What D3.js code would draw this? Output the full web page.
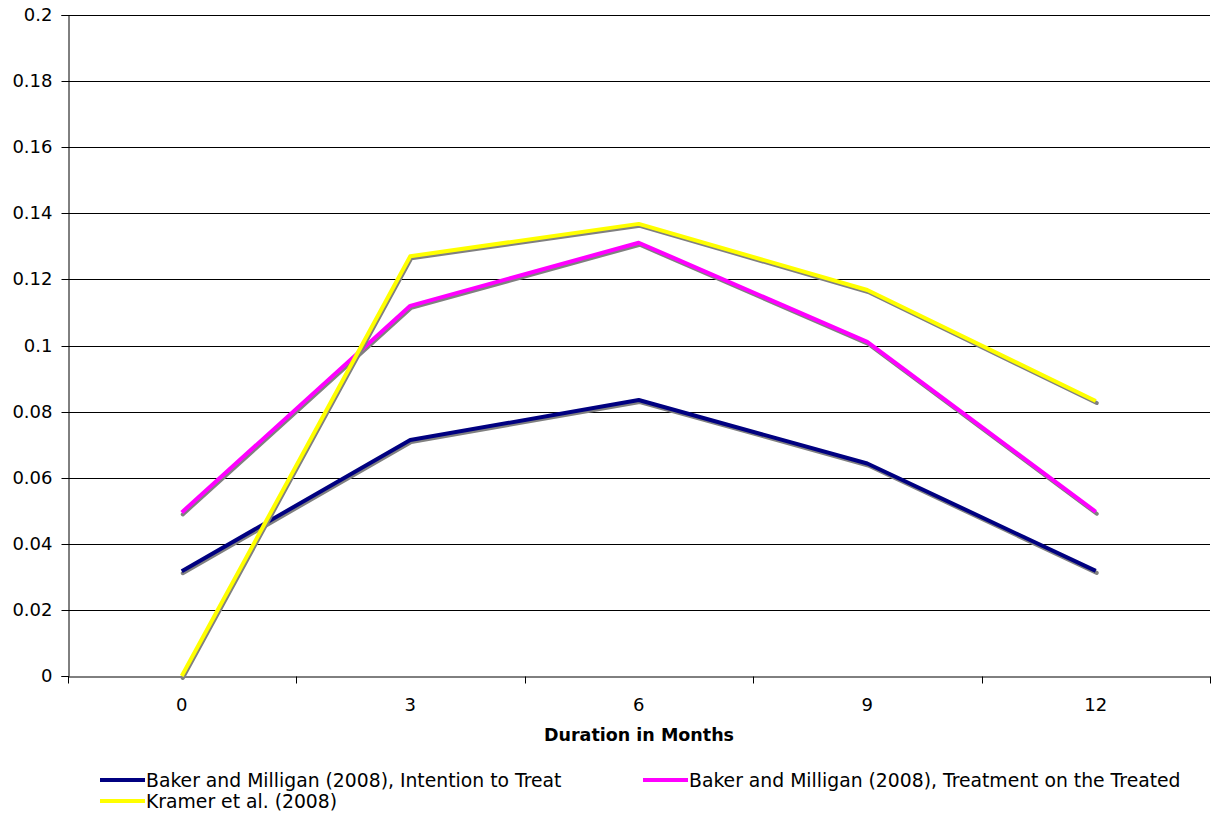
<!DOCTYPE html>
<html>
<head>
<meta charset="utf-8">
<script src="https://cdn.jsdelivr.net/npm/d3@7"></script>
<style>
  html, body { margin: 0; padding: 0; background: #fff; }
  svg { display: block; }
  text { font-family: "DejaVu Sans", Verdana, sans-serif; fill: #000; }
</style>
</head>
<body>
<svg id="chart" width="1211" height="821"></svg>
<script>
const categories = ["0", "3", "6", "9", "12"];
const seriesNames = [
  "Baker and Milligan (2008), Intention to Treat",
  "Baker and Milligan (2008), Treatment on the Treated",
  "Kramer et al. (2008)"
];
const intentionToTreat = [0.0317, 0.0714, 0.0835, 0.0643, 0.0318];
const treatmentOnTreated = [0.0495, 0.112, 0.1311, 0.1011, 0.0497];
const kramer = [0, 0.127, 0.1368, 0.1168, 0.0832];
const yTicks = [0, 0.02, 0.04, 0.06, 0.08, 0.1, 0.12, 0.14, 0.16, 0.18, 0.2];
const colors = ["#000080", "#FF00FF", "#FFFF00"];
const xTitle = "Duration in Months";

const series = [intentionToTreat, treatmentOnTreated, kramer];

const svg = d3.select("#chart");
const plot = { left: 67.5, right: 1210, top: 15, bottom: 676 };
const tickFont = "18px";
const legendFont = "18.8px";

const x = d3.scaleBand().domain(categories).range([plot.left, plot.right]).padding(0);
const y = d3.scaleLinear().domain([0, 0.2]).range([plot.bottom, plot.top]);
const py = v => Math.round(y(v)) + 0.5;

// gridlines
svg.append("g").selectAll("line").data(yTicks.filter(d => d > 0)).join("line")
  .attr("x1", plot.left).attr("x2", plot.right)
  .attr("y1", d => py(d)).attr("y2", d => py(d))
  .attr("stroke", "#000").attr("stroke-width", 1);

// y axis
const yAxis = d3.axisLeft(y).tickValues(yTicks).tickSize(7).tickPadding(9)
  .tickFormat(d => String(+d.toFixed(2)));
const gy = svg.append("g").attr("transform", `translate(${Math.round(plot.left) + 0.5},0)`).call(yAxis);
gy.attr("font-family", null).attr("font-size", null);
gy.select(".domain").attr("stroke", "#000");
gy.selectAll(".tick line").attr("stroke", "#000");
gy.selectAll(".tick text").attr("fill", "#000").style("font-size", tickFont);
gy.selectAll(".tick").attr("transform", d => `translate(0,${py(d)})`);

// x axis
const gx = svg.append("g").attr("transform", `translate(0,${py(0)})`)
  .call(d3.axisBottom(x).tickSize(0).tickPadding(22));
gx.attr("font-family", null).attr("font-size", null);
gx.select(".domain").attr("stroke", "#000");
gx.selectAll(".tick text").attr("fill", "#000").style("font-size", tickFont);
const bounds = categories.map(c => x(c)).concat([x(categories[categories.length - 1]) + x.bandwidth()]);
gx.append("g").selectAll("line").data(bounds).join("line")
  .attr("x1", d => Math.min(Math.round(d), 1210) + 0.5).attr("x2", d => Math.min(Math.round(d), 1210) + 0.5)
  .attr("y1", 0).attr("y2", 7).attr("stroke", "#000");

svg.append("text").attr("x", 639).attr("y", 741)
  .attr("text-anchor", "middle").style("font-weight", "bold").style("font-size", "17.5px").text(xTitle);

// lines with drop shadow
const line = d3.line().x((d, i) => x(categories[i]) + x.bandwidth() / 2).y(d => y(d));
series.forEach((s, k) => {
  svg.append("path").datum(s).attr("d", line)
    .attr("fill", "none").attr("stroke", "#808080").attr("stroke-width", 4)
    .attr("stroke-linejoin", "round").attr("stroke-linecap", "round")
    .attr("transform", "translate(1,2)");
  svg.append("path").datum(s).attr("d", line)
    .attr("fill", "none").attr("stroke", colors[k]).attr("stroke-width", 4)
    .attr("stroke-linejoin", "round").attr("stroke-linecap", "butt");
});

// legend
const legendItems = [
  { x: 100, y: 780, i: 0 },
  { x: 643, y: 780, i: 1 },
  { x: 100, y: 801, i: 2 }
];
const lg = svg.append("g");
legendItems.forEach(it => {
  lg.append("line").attr("x1", it.x).attr("x2", it.x + 45)
    .attr("y1", it.y).attr("y2", it.y).attr("stroke", colors[it.i]).attr("stroke-width", 4);
  lg.append("text").attr("x", it.x + 46).attr("y", it.y + 6.5)
    .style("font-size", legendFont).text(seriesNames[it.i]);
});
</script>
</body>
</html>
